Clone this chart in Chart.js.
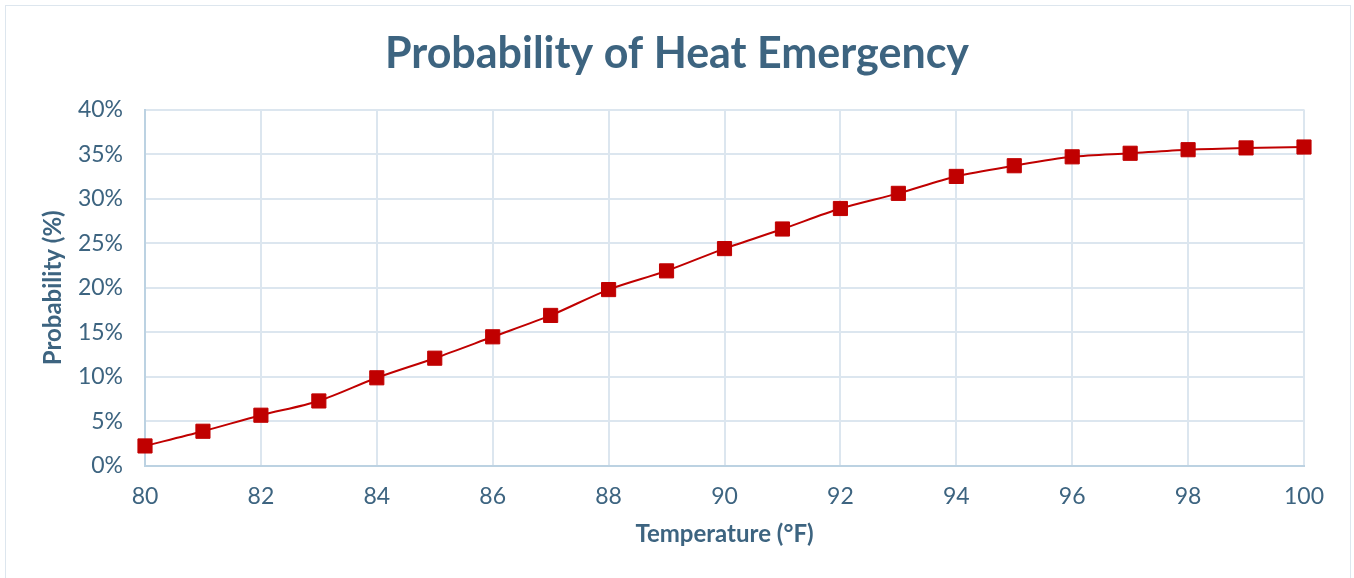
<!DOCTYPE html>
<html>
<head>
<meta charset="utf-8">
<script src="https://cdn.jsdelivr.net/npm/chart.js@4/dist/chart.umd.min.js"></script>
<style>
    html, body { margin: 0; padding: 0; background: #fff; }
    #wrap { position: relative; width: 1354px; height: 578px; }
    #frame {
        position: absolute; left: 5px; top: 5px; width: 1346px; height: 580px;
        border: 1px solid #dde6ee; box-sizing: border-box; pointer-events: none;
    }
</style>
</head>
<body>
<div id="wrap">
    <canvas id="heatChart" width="1354" height="578"></canvas>
    <div id="frame"></div>
</div>
<script>
// temperatures (°F) and probability of heat emergency (%)
const temperatures = [80, 81, 82, 83, 84, 85, 86, 87, 88, 89, 90, 91, 92, 93, 94, 95, 96, 97, 98, 99, 100];
const probability = [2.25, 3.9, 5.7, 7.3, 9.9, 12.1, 14.5, 16.9, 19.8, 21.9, 24.4, 26.6, 28.9, 30.6, 32.5, 33.7, 34.7, 35.1, 35.5, 35.7, 35.8];

const textColor = '#3d6480';
const gridColor = '#dce6ef';

const ctx = document.getElementById('heatChart').getContext('2d');
new Chart(ctx, {
    type: 'line',
    data: {
        datasets: [{
            label: 'Probability',
            data: temperatures.map((t, i) => ({ x: t, y: probability[i] })),
            borderColor: '#c00000',
            backgroundColor: '#c00000',
            borderWidth: 2,
            pointStyle: 'rect',
            pointRadius: 10,
            pointBorderWidth: 1,
            pointBorderColor: '#c00000',
            pointBackgroundColor: '#c00000',
            tension: 0.3,
            fill: false,
            clip: false
        }]
    },
    options: {
        responsive: false,
        animation: false,
        layout: { padding: 0 },
        plugins: {
            legend: { display: false },
            tooltip: { enabled: false },
            title: {
                display: true,
                text: 'Probability of Heat Emergency',
                color: textColor,
                font: { family: 'Lato', size: 43, weight: 'bold' },
                padding: { top: 28, bottom: 30 }
            }
        },
        scales: {
            x: {
                type: 'linear',
                min: 80,
                max: 100,
                grid: { color: gridColor, lineWidth: 2, drawTicks: false },
                border: { color: '#bcd2e2', width: 2 },
                ticks: {
                    stepSize: 2,
                    color: textColor,
                    padding: 17,
                    font: { family: 'Lato', size: 23 }
                },
                title: {
                    display: true,
                    text: 'Temperature (°F)',
                    color: textColor,
                    font: { family: 'Lato', size: 24, weight: 'bold' },
                    padding: { top: 0, bottom: 29 }
                },
                afterFit(scale) { scale.height = 112; }
            },
            y: {
                min: 0,
                max: 40,
                grid: { color: gridColor, lineWidth: 2, drawTicks: false },
                border: { color: '#bcd2e2', width: 2 },
                ticks: {
                    stepSize: 5,
                    color: textColor,
                    padding: 22,
                    font: { family: 'Lato', size: 23 },
                    callback: v => v + '%'
                },
                title: {
                    display: true,
                    text: 'Probability (%)',
                    color: textColor,
                    font: { family: 'Lato', size: 24, weight: 'bold' },
                    padding: { top: 39, bottom: 0 }
                },
                afterFit(scale) { scale.width = 145; }
            },
            // empty spacer on the right so the title stays centred on the whole canvas
            spacer: {
                type: 'linear',
                position: 'right',
                display: true,
                grid: { display: false },
                border: { display: false },
                ticks: { display: false },
                afterFit(scale) { scale.width = 50; }
            }
        }
    }
});
</script>
</body>
</html>
